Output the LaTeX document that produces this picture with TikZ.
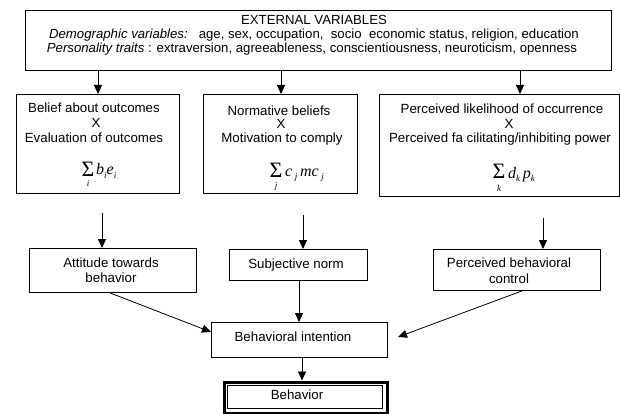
\documentclass[tikz,border=0pt]{standalone}
\usepackage{fontspec}
\setmainfont{Liberation Sans}
\newfontfamily\tms{Liberation Serif}
\usetikzlibrary{arrows.meta}

% empty framed box from (x1,y1) to (x2,y2), y measured downwards
\newcommand{\tpbbox}[6][]{%
  \node[box,#1,anchor=north west,minimum width={(#5-#3)*1pt},minimum height={(#6-#4)*1pt}] (#2) at (#3,#4) {};}
% lowered index of a product term
\newcommand{\ix}[1]{\raisebox{-3.5pt}{\fontsize{9}{9}\selectfont #1}}

\begin{document}
\begin{tikzpicture}[x=1pt,y=-1pt,
  box/.style={draw,line width=0.9pt,inner sep=0pt},
  txt/.style={inner sep=0pt,text height=9.6pt,text depth=0pt,font=\fontsize{13.3}{15}\selectfont},
  toptxt/.style={inner sep=0pt,text height=9.5pt,text depth=0pt,font=\fontsize{13.2}{15}\selectfont},
  sigma/.style={inner sep=0pt,text height=14.5pt,text depth=0pt,font=\tms\fontsize{22}{22}\selectfont},
  index/.style={inner sep=0pt,font=\tms\itshape\fontsize{9}{9}\selectfont},
  terms/.style={inner sep=0pt,anchor=base west,font=\tms\itshape\fontsize{16}{16}\selectfont},
  arr/.style={line width=0.9pt,-{Triangle[length=9pt,width=8pt]}},
  link/.style={line width=0.8pt}]
\useasboundingbox (0,0) rectangle (620,414);

% ---- external variables
\tpbbox{ext}{25}{10}{611}{70}
\node[toptxt] (ext1) at (314,19.5) {EXTERNAL VARIABLES};
\node[toptxt] (ext2) at (314,34) {\textit{Demographic variables:}\ \ \ age, sex, occupation,\ \ socio\ \ economic status, religion, education};
\node[toptxt] (ext3) at (312,48) {\textit{Personality traits} : extraversion, agreeableness, conscientiousness, neuroticism, openness};

% ---- belief boxes
\tpbbox{bel}{16}{94}{179}{193}
\node[txt] (bel1) at (94,108) {Belief about outcomes};
\node[txt] (bel2) at (96,123) {X};
\node[txt] (bel3) at (94,138) {Evaluation of outcomes};
\node[sigma] (bel4) at (88,169.5) {\char"03A3};
\node[index] (bel5) at (88,184) {i};
\node[terms] (bel6) at (96,175) {b\ix{i}e\ix{i}};

\tpbbox{nrm}{203}{94}{357}{193}
\node[txt] (nrm1) at (279,111) {Normative beliefs};
\node[txt] (nrm2) at (281,124) {X};
\node[txt] (nrm3) at (282,138) {Motivation to comply};
\node[sigma] (nrm4) at (276,170) {\char"03A3};
\node[index] (nrm5) at (276,186) {j};
\node[terms] (nrm6) at (285,176) {c\,\ix{j}\,mc\,\ix{j}};

\tpbbox{ctl}{379}{94}{619}{196}
\node[txt] (ctl1) at (502,109) {Perceived likelihood of occurrence};
\node[txt] (ctl2) at (509,124) {X};
\node[txt] (ctl3) at (500,138) {Perceived fa cilitating/inhibiting power};
\node[sigma] (ctl4) at (499,171.5) {\char"03A3};
\node[index] (ctl5) at (499,188) {k};
\node[terms] (ctl6) at (508,178) {d\ix{k}\,p\ix{k}};

% ---- arrows from external variables
\coordinate (e1) at (98,0);
\coordinate (e2) at (281,0);
\coordinate (e3) at (520,0);
\draw[arr] (ext.south -| e1) -- (bel.north -| e1);
\draw[arr] (ext.south -| e2) -- (nrm.north -| e2);
\draw[arr] (ext.south -| e3) -- (ctl.north -| e3);

% ---- determinants
\tpbbox{att}{29}{248}{196}{292}
\node[txt] (att1) at (111,263) {Attitude towards};
\node[txt] (att2) at (111,278) {behavior};

\tpbbox{sub}{229}{249}{367}{280}
\node[txt] (sub1) at (296,264) {Subjective norm};

\tpbbox{pbc}{433}{249}{600}{290}
\node[txt] (pbc1) at (509,263) {Perceived behavioral};
\node[txt] (pbc2) at (509,279) {control};

\coordinate (m1) at (102,213);
\coordinate (m2) at (303,215);
\coordinate (m3) at (543,218);
\draw[arr] (m1) -- (att.north -| m1);
\draw[arr] (m2) -- (sub.north -| m2);
\draw[arr] (m3) -- (pbc.north -| m3);

% ---- intention and behavior
\tpbbox{int}{211}{322}{387}{357}
\node[txt] (int1) at (293,337) {Behavioral intention};

\coordinate (s1) at (299,0);
\draw[arr] (sub.south -| s1) -- (int.north -| s1);

\coordinate (a1) at (110,0);
\coordinate (a2) at (211,332);
\draw[arr,link] (att.south -| a1) -- (a2);

\coordinate (c1) at (522,0);
\coordinate (c2) at (398,337);
\draw[arr,link] (pbc.south -| c1) -- (c2);

\tpbbox[line width=3.2pt]{beh}{223}{380.5}{386}{411.5}
\tpbbox[line width=0.8pt]{behin}{227}{384.5}{382}{407.5}
\node[txt] (beh1) at (297,395) {Behavior};

\coordinate (b1) at (302,0);
\draw[arr] (int.south -| b1) -- (beh.north -| b1);
\end{tikzpicture}
\end{document}
